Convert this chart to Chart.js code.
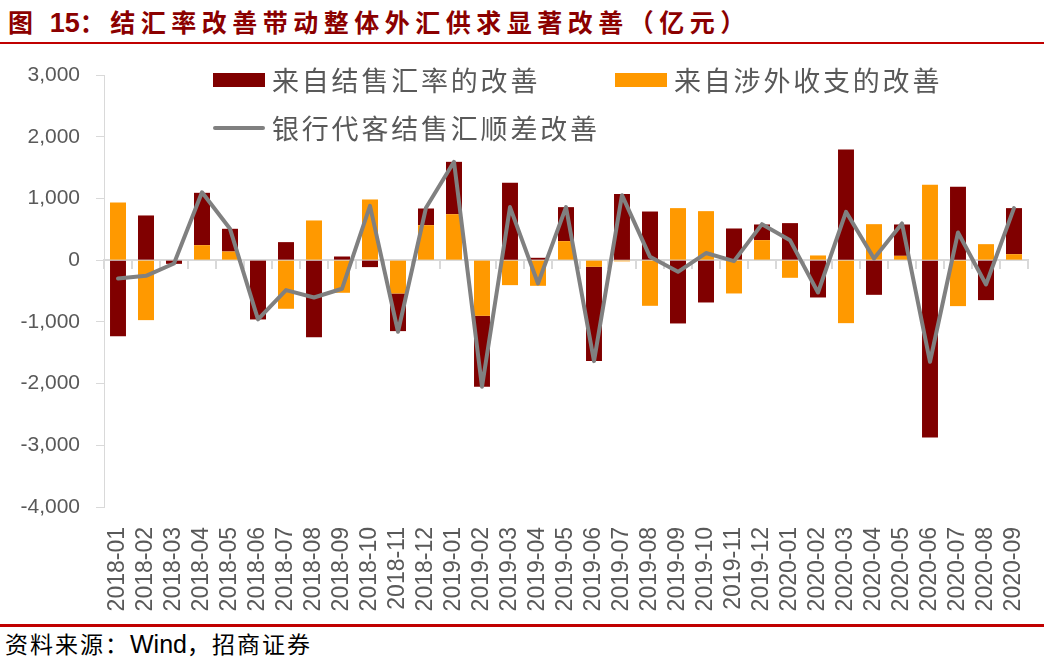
<!DOCTYPE html>
<html lang="zh">
<head>
<meta charset="utf-8">
<title>结汇率改善带动整体外汇供求显著改善</title>
<script src="https://cdn.jsdelivr.net/npm/chart.js@4/dist/chart.umd.min.js"></script>
<style>
  body { margin: 0; background: #fff; width: 1044px; height: 657px; position: relative; overflow: hidden; }
  #titulo {
    position: absolute; left: 8px; top: 3px;
    font-family: "Noto Sans CJK SC", sans-serif; font-weight: bold;
    font-size: 25px; color: #8b0000; letter-spacing: 5.5px; white-space: nowrap;
  }
  #titulo b { font-family: "Liberation Sans", Arial, sans-serif; font-size: 27px; letter-spacing: 0; }
  .linea-roja { position: absolute; left: 0; width: 1044px; height: 2px; background: #c00000; }
  #contenedor { position: absolute; left: 0; top: 45px; width: 1044px; height: 578px; }
  #fuente {
    position: absolute; left: 5px; top: 626px;
    font-family: "Noto Sans CJK SC", sans-serif; font-size: 23px; color: #000;
    letter-spacing: 2px; white-space: nowrap;
  }
  #fuente span { font-family: "Liberation Sans", Arial, sans-serif; font-size: 25px; letter-spacing: 0; }
</style>
</head>
<body>
<div id="titulo">图 <b>15</b>：结汇率改善带动整体外汇供求显著改善（亿元）</div>
<div class="linea-roja" style="top: 42px;"></div>
<div id="contenedor"><canvas id="grafico"></canvas></div>
<div class="linea-roja" style="top: 624px; height: 3px;"></div>
<div id="fuente">资料来源：<span>Wind</span>，招商证券</div>

<script>
// Datos (亿元)
const meses = [
  '2018-01', '2018-02', '2018-03', '2018-04', '2018-05', '2018-06', '2018-07', '2018-08', '2018-09', '2018-10', '2018-11', '2018-12',
  '2019-01', '2019-02', '2019-03', '2019-04', '2019-05', '2019-06', '2019-07', '2019-08', '2019-09', '2019-10', '2019-11', '2019-12',
  '2020-01', '2020-02', '2020-03', '2020-04', '2020-05', '2020-06', '2020-07', '2020-08', '2020-09'
];

// 来自结售汇率的改善
const mejoraTasa = [
  -1232, 724, -60, 848, 368, -961, 292, -1248, 59, -113, -610, 270,
  848, -1150, 1253, 38, 551, -1528, 1070, 788, -1026, -686, 513, 254,
  600, -605, 1793, -562, 508, -2873, 1188, -648, 746
];

// 来自涉外收支的改善
const mejoraPagos = [
  934, -972, 0, 243, 140, 0, -788, 643, -529, 983, -540, 567,
  745, -902, -405, -416, 308, -108, -20, -740, 843, 794, -540, 324,
  -286, 76, -1021, 583, 70, 1221, -745, 259, 97
];

// 银行代客结售汇顺差改善
const mejoraSuperavit = [
  -297, -254, -54, 1100, 508, -961, -486, -605, -464, 880, -1161, 850,
  1593, -2052, 860, -378, 859, -1636, 1053, 54, -189, 115, -16, 583,
  324, -524, 783, 27, 594, -1647, 448, -395, 843
];

const ticksY = [3000, 2000, 1000, 0, -1000, -2000, -3000, -4000];

const ROJO = '#800000';
const NARANJA = '#ff9900';
const GRIS = '#808080';
const GRIS_EJE = '#d9d9d9';
const TEXTO = '#595959';

// Leyenda dibujada dentro del área del gráfico (como en Excel)
const leyendaInterna = {
  id: 'leyendaInterna',
  afterDraw(chart) {
    const ctx = chart.ctx;
    const area = chart.chartArea;
    const ds = chart.data.datasets;
    const items = [
      { ds: ds[1], x: area.left + 109, y: area.top + 5, tipo: 'caja' },
      { ds: ds[0], x: area.left + 511, y: area.top + 5, tipo: 'caja' },
      { ds: ds[2], x: area.left + 109, y: area.top + 53, tipo: 'linea' }
    ];
    ctx.save();
    ctx.font = '27px "Noto Sans CJK SC", sans-serif';
    ctx.letterSpacing = '2.8px';
    ctx.textBaseline = 'middle';
    ctx.textAlign = 'left';
    items.forEach(it => {
      if (it.tipo === 'caja') {
        ctx.fillStyle = it.ds.backgroundColor;
        ctx.fillRect(it.x, it.y - 7, 52, 14);
      } else {
        ctx.strokeStyle = it.ds.borderColor;
        ctx.lineWidth = 4;
        ctx.lineCap = 'round';
        ctx.beginPath();
        ctx.moveTo(it.x + 2, it.y);
        ctx.lineTo(it.x + 50, it.y);
        ctx.stroke();
      }
      ctx.fillStyle = TEXTO;
      ctx.fillText(it.ds.label, it.x + 59, it.y + 1);
    });
    ctx.restore();
  }
};

new Chart(document.getElementById('grafico'), {
  type: 'bar',
  data: {
    labels: meses,
    datasets: [
      {
        label: '来自涉外收支的改善',
        data: mejoraPagos,
        backgroundColor: NARANJA,
        stack: 'total',
        order: 1
      },
      {
        label: '来自结售汇率的改善',
        data: mejoraTasa,
        backgroundColor: ROJO,
        stack: 'total',
        order: 1
      },
      {
        type: 'line',
        label: '银行代客结售汇顺差改善',
        data: mejoraSuperavit,
        borderColor: GRIS,
        backgroundColor: GRIS,
        borderWidth: 4,
        borderJoinStyle: 'round',
        borderCapStyle: 'round',
        pointRadius: 0,
        tension: 0,
        order: 0
      }
    ]
  },
  options: {
    responsive: true,
    maintainAspectRatio: false,
    animation: false,
    layout: { padding: { top: 30, right: 0, left: 0, bottom: 0 } },
    datasets: {
      bar: { categoryPercentage: 1, barPercentage: 0.57 }
    },
    plugins: {
      legend: { display: false },
      tooltip: { enabled: false }
    },
    scales: {
      // eje en el valor 0 con las marcas entre categorías
      x: {
        type: 'category',
        stacked: true,
        offset: true,
        position: { y: 0 },
        ticks: { display: false },
        grid: { offset: true, drawOnChartArea: false, drawTicks: true, tickLength: 8, color: GRIS_EJE, lineWidth: 2 },
        border: { display: true, color: GRIS_EJE, width: 2 }
      },
      // eje de etiquetas abajo
      x2: {
        type: 'category',
        position: 'bottom',
        offset: true,
        labels: meses,
        grid: { display: false, drawTicks: false },
        border: { display: false },
        ticks: {
          autoSkip: false,
          minRotation: 90,
          maxRotation: 90,
          padding: 20,
          color: TEXTO,
          font: { family: '"Liberation Sans", Arial, sans-serif', size: 23 }
        },
        afterFit: s => { s.height = 116; s.paddingRight = 16; s.paddingLeft = 0; }
      },
      y: {
        stacked: true,
        min: -4000,
        max: 3000,
        afterBuildTicks: s => { s.ticks = ticksY.map(v => ({ value: v })); },
        afterFit: s => { s.width = 104; },
        grid: { drawOnChartArea: false, drawTicks: true, tickLength: 8, color: GRIS_EJE },
        border: { display: true, color: GRIS_EJE, width: 1 },
        ticks: {
          padding: 16,
          color: TEXTO,
          font: { family: '"Liberation Sans", Arial, sans-serif', size: 21 },
          callback: v => v.toLocaleString('en-US')
        }
      }
    }
  },
  plugins: [leyendaInterna]
});
</script>
</body>
</html>
